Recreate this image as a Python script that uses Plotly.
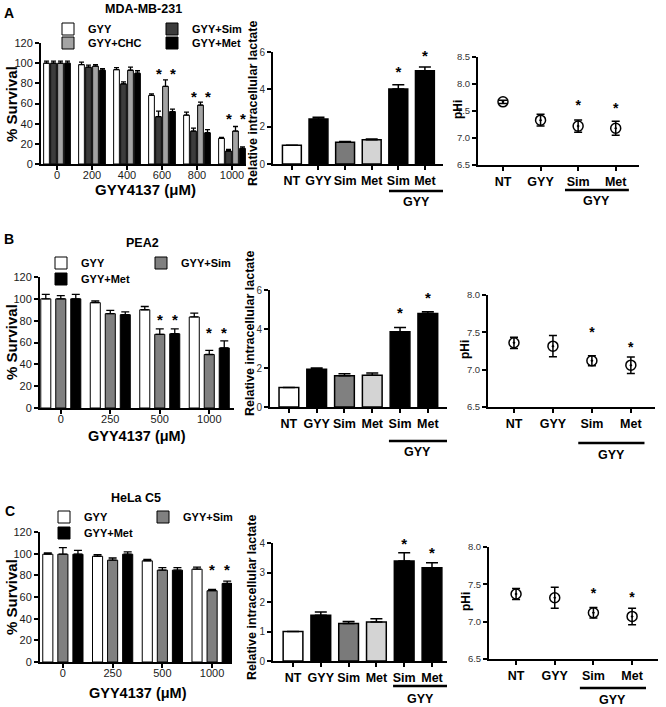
import plotly.graph_objects as go

W, H = 666, 707
FONT = "Liberation Sans, Arial, Helvetica, sans-serif"

# ================= DATA =================
# ---- Panel A : MDA-MB-231 ----
a_doses = ["0", "200", "400", "600", "800", "1000"]
a_series = ["GYY", "GYY+Sim", "GYY+CHC", "GYY+Met"]
a_gyy = [100, 98.6, 93.6, 68.0, 48.5, 25.5]
a_gyy_err = [2.0, 2.5, 2.0, 1.5, 3.0, 1.0]
a_sim = [100, 96.0, 79.5, 47.0, 32.6, 12.9]
a_sim_err = [2.0, 2.0, 2.0, 5.5, 3.0, 1.5]
a_chc = [100, 97.0, 93.0, 77.0, 58.4, 32.7]
a_chc_err = [2.0, 1.5, 3.0, 6.5, 3.0, 4.5]
a_met = [100, 93.0, 90.0, 52.0, 31.0, 15.5]
a_met_err = [2.0, 1.5, 2.5, 2.5, 3.0, 1.5]
a_star_dose = ["600", "600", "800", "800", "1000", "1000"]
a_star_series = ["GYY+Sim", "GYY+Met", "GYY+Sim", "GYY+Met", "GYY+Sim", "GYY+Met"]
a_star_y = [93, 93, 70, 70, 48, 48]

lac_groups = ["NT", "GYY", "Sim", "Met", "GYY+Sim", "GYY+Met"]
lac_ticks = ["NT", "GYY", "Sim", "Met", "Sim", "Met"]
lac_star_groups = ["GYY+Sim", "GYY+Met"]
a_lac = [1.0, 2.41, 1.16, 1.30, 4.02, 5.00]
a_lac_err = [0.0, 0.09, 0.05, 0.04, 0.23, 0.20]
a_lac_star = [5.0, 5.86]

ph_groups = ["NT", "GYY", "GYY+Sim", "GYY+Met"]
ph_ticks = ["NT", "GYY", "Sim", "Met"]
ph_star_groups = ["GYY+Sim", "GYY+Met"]
a_ph = [7.67, 7.33, 7.22, 7.18]
a_ph_err = [0.03, 0.11, 0.115, 0.13]
a_ph_star = [7.63, 7.59]

# ---- Panel B : PEA2 ----
bc_doses = ["0", "250", "500", "1000"]
bc_series = ["GYY", "GYY+Sim", "GYY+Met"]
b_gyy = [100, 96.5, 90.0, 83.4]
b_gyy_err = [4.0, 1.5, 3.0, 3.5]
b_sim = [100, 86.4, 67.5, 49.0]
b_sim_err = [3.0, 3.0, 5.0, 3.8]
b_met = [100, 85.5, 68.0, 55.0]
b_met_err = [4.0, 2.5, 4.5, 6.4]
b_star_dose = ["500", "500", "1000", "1000"]
b_star_series = ["GYY+Sim", "GYY+Met", "GYY+Sim", "GYY+Met"]
b_star_y = [83.4, 83.4, 71.8, 71.8]
b_lac = [1.0, 1.94, 1.60, 1.63, 3.86, 4.80]
b_lac_err = [0.0, 0.06, 0.11, 0.12, 0.22, 0.09]
b_lac_star = [4.89, 5.69]
b_ph = [7.36, 7.315, 7.12, 7.06]
b_ph_err = [0.075, 0.143, 0.067, 0.11]
b_ph_star = [7.53, 7.33]

# ---- Panel C : HeLa C5 ----
c_gyy = [99.5, 97.6, 93.4, 85.7]
c_gyy_err = [1.2, 1.6, 1.2, 1.8]
c_sim = [99.5, 94.0, 84.8, 65.8]
c_sim_err = [6.1, 2.0, 2.4, 1.2]
c_met = [99.5, 99.5, 84.8, 72.5]
c_met_err = [3.5, 2.1, 2.4, 2.2]
c_star_dose = ["1000", "1000"]
c_star_series = ["GYY+Sim", "GYY+Met"]
c_star_y = [87.9, 87.9]
c_lac = [1.0, 1.55, 1.27, 1.32, 3.39, 3.16]
c_lac_err = [0.0, 0.11, 0.07, 0.11, 0.28, 0.17]
c_lac_star = [4.03, 3.72]
c_ph = [7.37, 7.32, 7.12, 7.07]
c_ph_err = [0.074, 0.14, 0.07, 0.11]
c_ph_star = [7.41, 7.35]

# ================= GEOMETRY / STYLE =================
def px(p):
    return p / W


def py(p):
    return 1 - p / H


# pixel boxes: (x_left, x_right), (y_bottom, y_top), xrange, yrange
geo = {
    1: dict(xd=(41, 246), yd=(164, 43), xr=(-0.457, 5.40), yr=(0, 120)),
    2: dict(xd=(273, 443), yd=(164, 52), xr=(-0.71, 5.68), yr=(0, 6)),
    3: dict(xd=(478, 639), yd=(165, 57), xr=(-0.665, 3.62), yr=(6.5, 8.5)),
    4: dict(xd=(40, 234), yd=(408, 277), xr=(-0.42, 3.5), yr=(0, 120)),
    5: dict(xd=(270, 447), yd=(407, 290), xr=(-0.68, 5.69), yr=(0, 6)),
    6: dict(xd=(488, 655), yd=(407, 295), xr=(-0.667, 3.62), yr=(6.5, 8.0)),
    7: dict(xd=(40, 232), yd=(662, 532), xr=(-0.46, 3.40), yr=(0, 120)),
    8: dict(xd=(273, 447), yd=(661, 543), xr=(-0.72, 5.54), yr=(0, 4)),
    9: dict(xd=(489, 658), yd=(659, 547), xr=(-0.70, 3.67), yr=(6.5, 8.0)),
}

fig = go.Figure()
annotations = []
shapes = []


def ax_names(i):
    return ("x" if i == 1 else f"x{i}"), ("y" if i == 1 else f"y{i}")


def star_annotation(xref, yref, x, y, size=15):
    annotations.append(dict(x=x, y=y, xref=xref, yref=yref, text="*", showarrow=False,
                            font=dict(family=FONT, size=size, color="black", weight="bold"),
                            yanchor="middle", yshift=-3))


def star_trace(i, cats, ys, size=15):
    """Asterisks over whole categories as an unclipped text trace (the glyph sits high
    in its box, so the anchor is lowered ~3 px to centre it on the read position)."""
    xr, yr = ax_names(i)
    g = geo[i]
    per_px = (g["yr"][1] - g["yr"][0]) / (g["yd"][0] - g["yd"][1])
    fig.add_trace(go.Scatter(
        x=cats, y=[v - 3 * per_px for v in ys], xaxis=xr, yaxis=yr, mode="text",
        text=["*"] * len(cats), textposition="middle center", cliponaxis=False,
        textfont=dict(family=FONT, size=size, color="black", weight="bold"),
        showlegend=False, hoverinfo="skip"))


def survival_panel(i, doses, series, values, errs, colors, bar_frac, slot, star_dose,
                   star_series, star_y, legend_ids):
    xr, yr = ax_names(i)
    n = len(series)
    width = slot * bar_frac
    for k, (name, vals, er, col, lg) in enumerate(zip(series, values, errs, colors, legend_ids)):
        off = -slot * n / 2 + slot * k + (slot - width) / 2
        fig.add_trace(go.Bar(
            x=doses, y=vals, name=name, xaxis=xr, yaxis=yr, width=width, offset=off,
            marker=dict(color=col, line=dict(color="black", width=1)),
            error_y=dict(type="data", array=er, symmetric=False, arrayminus=[0] * len(er),
                         color="black", thickness=1.3, width=2.5 if n == 4 else 4),
            legend=lg, showlegend=True))
    for d, s, yv in zip(star_dose, star_series, star_y):
        xc = doses.index(d) - slot * n / 2 + slot * series.index(s) + slot / 2
        star_annotation(xr, yr, xc, yv)


def lactate_panel(i, vals, errs, sim_color, stars):
    xr, yr = ax_names(i)
    colors = ["white", "black", sim_color, "#d4d4d4", "black", "black"]
    fig.add_trace(go.Bar(
        x=lac_groups, y=vals, xaxis=xr, yaxis=yr, width=0.71, showlegend=False,
        marker=dict(color=colors, line=dict(color="black", width=1.5)),
        error_y=dict(type="data", array=errs, symmetric=False, arrayminus=[0] * len(errs),
                     color="black", thickness=1.5, width=6)))
    star_trace(i, lac_star_groups, stars)


def ph_panel(i, vals, errs, stars):
    xr, yr = ax_names(i)
    fig.add_trace(go.Scatter(
        x=ph_groups, y=vals, xaxis=xr, yaxis=yr, mode="markers", showlegend=False,
        marker=dict(symbol="circle-open-dot", size=10, color="black", line=dict(width=1.5)),
        error_y=dict(type="data", array=errs, color="black", thickness=1.5, width=4)))
    star_trace(i, ph_star_groups, stars, size=14)


# ---- build traces ----
survival_panel(1, a_doses, a_series, [a_gyy, a_sim, a_chc, a_met],
               [a_gyy_err, a_sim_err, a_chc_err, a_met_err],
               ["white", "#3c3c3c", "#a4a4a4", "black"], 0.82, 0.2,
               a_star_dose, a_star_series, a_star_y,
               ["legend", "legend2", "legend3", "legend4"])
lactate_panel(2, a_lac, a_lac_err, "#7a7a7a", a_lac_star)
ph_panel(3, a_ph, a_ph_err, a_ph_star)

survival_panel(4, bc_doses, bc_series, [b_gyy, b_sim, b_met],
               [b_gyy_err, b_sim_err, b_met_err],
               ["white", "#808080", "black"], 0.67, 0.303,
               b_star_dose, b_star_series, b_star_y,
               ["legend5", "legend6", "legend7"])
lactate_panel(5, b_lac, b_lac_err, "#808080", b_lac_star)
ph_panel(6, b_ph, b_ph_err, b_ph_star)

survival_panel(7, bc_doses, bc_series, [c_gyy, c_sim, c_met],
               [c_gyy_err, c_sim_err, c_met_err],
               ["white", "#808080", "black"], 0.67, 0.303,
               c_star_dose, c_star_series, c_star_y,
               ["legend8", "legend9", "legend10"])
lactate_panel(8, c_lac, c_lac_err, "#7a7a7a", c_lac_star)
ph_panel(9, c_ph, c_ph_err, c_ph_star)

# ---- axes ----
layout = dict(template="none", width=W, height=H,
              margin=dict(l=0, r=0, t=0, b=0, autoexpand=False),
              paper_bgcolor="white", plot_bgcolor="white",
              font=dict(family=FONT, color="#1a1a1a"), barmode="overlay")

base = dict(showline=True, linecolor="black", linewidth=2, ticks="outside", ticklen=4,
            tickwidth=1.5, tickcolor="black", showgrid=False, zeroline=False,
            fixedrange=True, automargin=False)
for i, g in geo.items():
    xk = "xaxis" if i == 1 else f"xaxis{i}"
    yk = "yaxis" if i == 1 else f"yaxis{i}"
    xn, yn = ax_names(i)
    kind = (i - 1) % 3  # 0 survival, 1 lactate, 2 pHi
    xa = dict(base, domain=[px(g["xd"][0]), px(g["xd"][1])], range=list(g["xr"]),
              anchor=yn, type="category", tickangle=0)
    ya = dict(base, domain=[py(g["yd"][0]), py(g["yd"][1])], range=list(g["yr"]),
              anchor=xn)
    if kind == 0:
        xa["tickfont"] = dict(size=11, color="#1a1a1a")
        xa["ticklabelstandoff"] = -4
        ya["tickfont"] = dict(size=11, color="#1a1a1a")
        ya["dtick"] = 20
    elif kind == 1:
        xa["tickvals"] = lac_groups
        xa["ticktext"] = lac_ticks
        xa["tickfont"] = dict(size=12.5, color="black", weight="bold")
        ya["tickfont"] = dict(size=10, color="#333")
        ya["dtick"] = 2 if g["yr"][1] == 6 else 1
    else:
        xa["tickvals"] = ph_groups
        xa["ticktext"] = ph_ticks
        xa["tickfont"] = dict(size=12.5, color="black", weight="bold")
        ya["tickfont"] = dict(size=9.5, color="#333")
        ya["dtick"] = 0.5
        ya["tickformat"] = ".1f"
    layout[xk] = xa
    layout[yk] = ya

# ---- legends (one per entry for exact placement) ----
legend_pos = {
    "legend": (62, 29), "legend2": (166, 29), "legend3": (62, 43), "legend4": (166, 43),
    "legend5": (55, 263), "legend6": (155, 263), "legend7": (55, 279),
    "legend8": (58, 517), "legend9": (157, 517), "legend10": (58, 533),
}
for lk, (lx, ly) in legend_pos.items():
    layout[lk] = dict(x=px(lx - 14), y=py(ly), xanchor="left", yanchor="middle",
                      bgcolor="rgba(0,0,0,0)", borderwidth=0,
                      font=dict(family=FONT, size=11, color="black", weight="bold"),
                      itemclick=False, itemdoubleclick=False)


# ---- text annotations ----
def text(x, y, s, size, angle=0, weight="bold", xanchor="center"):
    annotations.append(dict(x=px(x), y=py(y), xref="paper", yref="paper", text=s,
                            showarrow=False, textangle=angle, xanchor=xanchor,
                            yanchor="middle",
                            font=dict(family=FONT, size=size, color="black", weight=weight)))


text(9, 13, "A", 14)
text(9, 239, "B", 14)
text(10, 511, "C", 14)
text(143, 9, "MDA-MB-231", 12.5)
text(142, 243, "PEA2", 12.5)
text(136, 498, "HeLa C5", 12.5)
text(12, 104, "% Survival", 15, -90)
text(11, 342, "% Survival", 15, -90)
text(11, 597, "% Survival", 15, -90)
text(145, 189, "GYY4137 (μM)", 15)
text(137, 436, "GYY4137 (μM)", 14.5)
text(138, 693, "GYY4137 (μM)", 14.5)
text(253, 104, "Relative intracellular lactate", 12.5, -90)
text(250, 333, "Relative intracellular lactate", 12.5, -90)
text(252, 598, "Relative intracellular lactate", 12.5, -90)
text(458, 110, "pHi", 12, -90)
text(465, 350, "pHi", 12, -90)
text(466, 602, "pHi", 12, -90)

# GYY brackets under the last two categories
brackets = [  # (axis index, x0, x1, line y px, text y px)
    (2, 3.65, 5.68, 191, 202),
    (3, 1.65, 3.35, 190, 201),
    (5, 3.6, 5.69, 441, 452),
    (6, 1.65, 3.35, 443, 455),
    (8, 3.6, 5.54, 686, 699),
    (9, 1.65, 3.36, 688, 700),
]
for i, x0, x1, ly, ty in brackets:
    xn, _ = ax_names(i)
    shapes.append(dict(type="line", xref=xn, yref="paper", x0=x0, x1=x1,
                       y0=py(ly), y1=py(ly), line=dict(color="black", width=2.5)))
    annotations.append(dict(x=(x0 + x1) / 2, y=py(ty), xref=xn, yref="paper", text="GYY",
                            showarrow=False, yanchor="middle",
                            font=dict(family=FONT, size=12.5, color="black", weight="bold")))

layout["annotations"] = annotations
layout["shapes"] = shapes
fig.update_layout(**layout)
fig.write_html("out.html", config={"displayModeBar": False},
               post_script="document.body.style.margin='0';document.body.style.padding='0';")
